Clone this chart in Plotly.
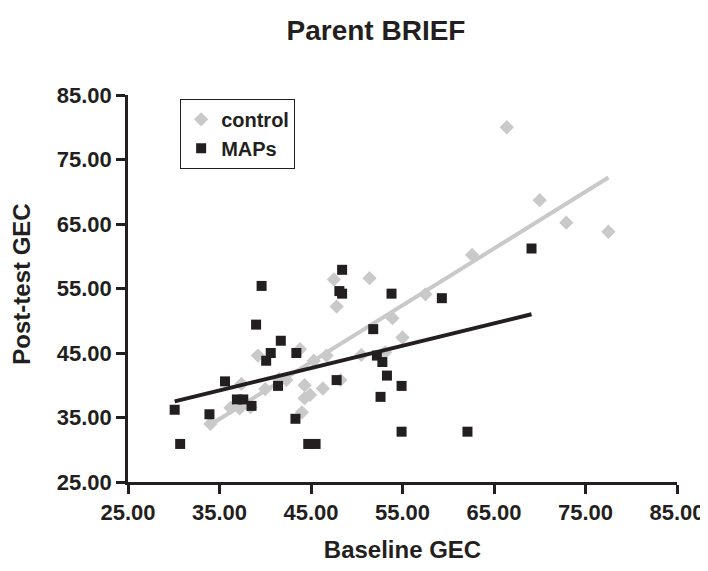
import numpy as np
import plotly.graph_objects as go

# Control group (grey diamonds): baseline GEC, post-test GEC
control_x = [34.0, 36.2, 37.2, 37.4, 38.4, 39.2, 40.0, 41.5, 42.3, 43.8, 45.3, 46.7,
             44.3, 44.9, 44.3, 46.3, 48.2, 44.0, 47.5, 47.8, 51.4, 50.5, 53.1, 53.9,
             55.0, 57.5, 62.6, 66.4, 70.0, 72.9, 77.5]
control_y = [34.0, 36.5, 36.4, 40.2, 36.6, 44.6, 39.4, 41.0, 40.8, 45.6, 43.8, 44.6,
             40.0, 38.5, 38.0, 39.5, 40.8, 35.8, 56.4, 52.2, 56.6, 44.7, 45.1, 50.4,
             47.4, 54.1, 60.2, 80.0, 68.7, 65.2, 63.8]

# MAPs group (black squares)
maps_x = [30.1, 30.7, 33.9, 35.6, 36.9, 37.6, 38.5, 39.0, 39.6, 40.1, 40.6, 41.7,
          41.4, 43.3, 43.4, 44.7, 45.5, 47.8, 48.4, 48.1, 48.4, 53.8, 59.3, 69.1,
          51.8, 52.2, 52.8, 53.3, 54.9, 52.6, 54.9, 62.1]
maps_y = [36.2, 30.9, 35.5, 40.6, 37.8, 37.8, 36.8, 49.4, 55.4, 43.8, 45.0, 46.9,
          39.9, 34.8, 45.0, 30.9, 30.9, 40.8, 57.9, 54.6, 54.2, 54.2, 53.5, 61.2,
          48.7, 44.6, 43.6, 41.5, 39.9, 38.2, 32.8, 32.8]

tick_vals = [25, 35, 45, 55, 65, 75, 85]
tick_text = ["25.00", "35.00", "45.00", "55.00", "65.00", "75.00", "85.00"]

GREY = "#c9c9c9"
BLACK = "#231f20"
FONT = "Liberation Sans, Arial, sans-serif"


def trend(xs, ys):
    xs = np.asarray(xs)
    ys = np.asarray(ys)
    m, b = np.polyfit(xs, ys, 1)
    x_line = np.array([xs.min(), xs.max()])
    return x_line, m * x_line + b


fig = go.Figure()

cx, cy = trend(control_x, control_y)
mx, my = trend(maps_x, maps_y)

fig.add_trace(go.Scatter(x=cx, y=cy, mode="lines", line=dict(color=GREY, width=4),
                         showlegend=False, hoverinfo="skip"))
fig.add_trace(go.Scatter(x=control_x, y=control_y, mode="markers", name="control",
                         marker=dict(symbol="diamond", size=11, color=GREY)))
fig.add_trace(go.Scatter(x=maps_x, y=maps_y, mode="markers", name="MAPs",
                         marker=dict(symbol="square", size=10, color=BLACK)))
fig.add_trace(go.Scatter(x=mx, y=my, mode="lines", line=dict(color=BLACK, width=4),
                         showlegend=False, hoverinfo="skip"))

axis_common = dict(
    range=[25, 85],
    tickmode="array",
    tickvals=tick_vals,
    ticktext=tick_text,
    showgrid=False,
    zeroline=False,
    showline=True,
    automargin=False,
    ticklabeloverflow="allow",
    linecolor=BLACK,
    linewidth=2.5,
    ticks="outside",
    ticklen=9,
    tickwidth=2.5,
    tickcolor=BLACK,
    tickfont=dict(family=FONT, size=22, color=BLACK, weight="bold"),
)

fig.update_layout(
    width=700,
    height=555,
    paper_bgcolor="white",
    plot_bgcolor="white",
    margin=dict(l=120, r=31, t=87, b=81),
    title=dict(text="Parent BRIEF", x=368 / 700, xref="container",
               y=1 - 22 / 555, yref="container", xanchor="center", yanchor="middle",
               font=dict(family=FONT, size=28, color=BLACK, weight="bold")),
    xaxis=dict(**axis_common,
               title=dict(text="Baseline GEC", standoff=19,
                          font=dict(family=FONT, size=24, color=BLACK, weight="bold"))),
    yaxis=dict(**axis_common),
    legend=dict(x=0.095, y=0.99, xanchor="left", yanchor="top",
                bgcolor="white", bordercolor=BLACK, borderwidth=1,
                font=dict(family=FONT, size=20, color=BLACK, weight="bold"),
                itemwidth=30, tracegroupgap=0),
    showlegend=True,
)

fig.add_annotation(text="Post-test GEC", textangle=-90, showarrow=False,
                   xref="paper", yref="paper", x=-0.193, y=0.51,
                   xanchor="center", yanchor="middle",
                   font=dict(family=FONT, size=24, color=BLACK, weight="bold"))

fig.write_html("out.html")
